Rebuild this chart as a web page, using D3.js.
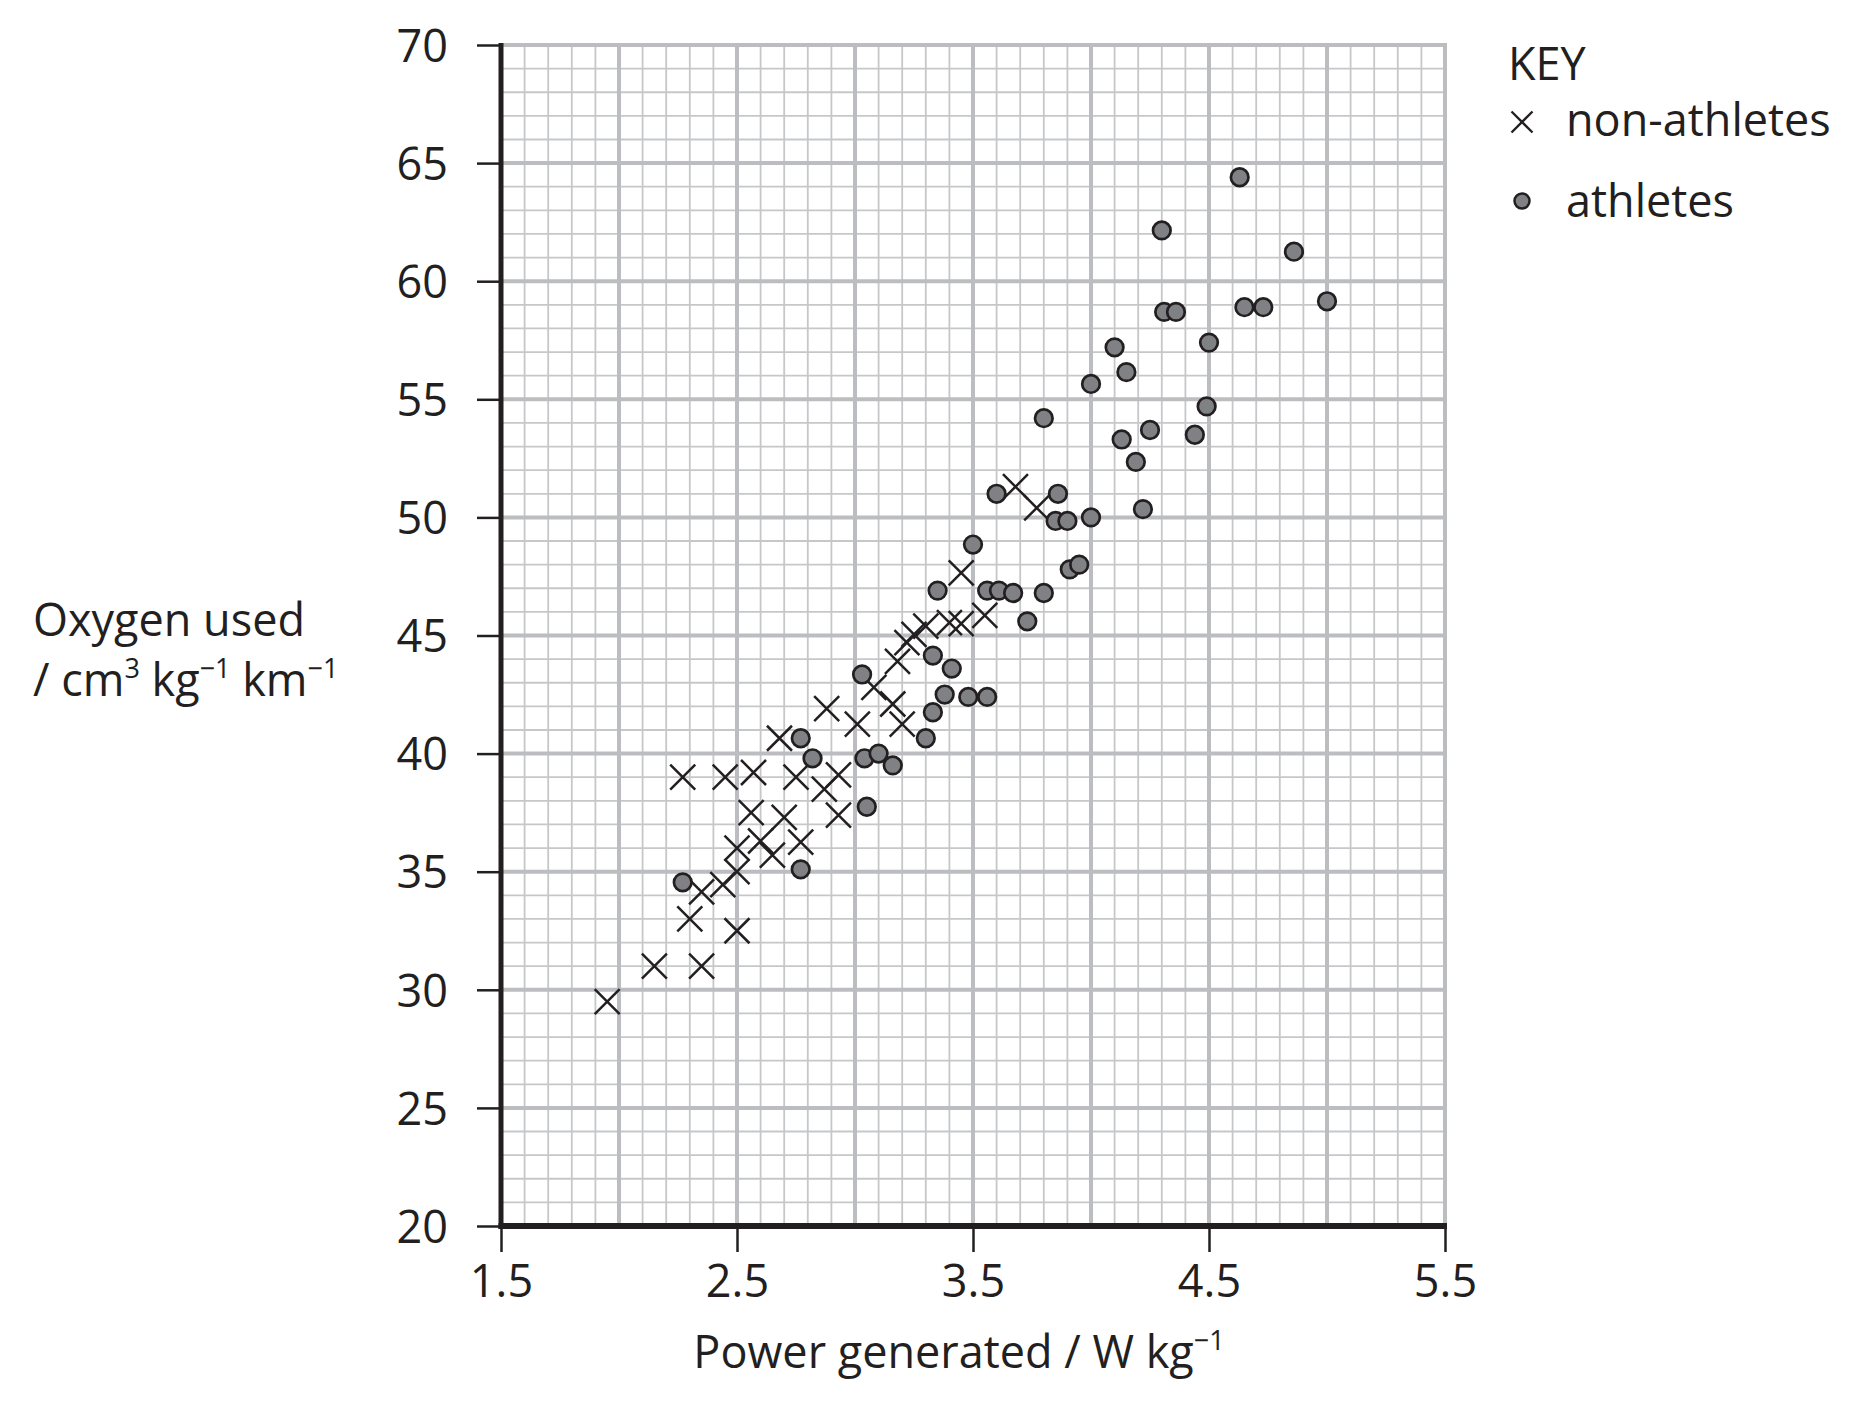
<!DOCTYPE html>
<html><head><meta charset="utf-8">
<script src="https://cdn.jsdelivr.net/npm/d3@7"></script>
<style>
body{margin:0;background:#fff}
svg text{font-family:"Open Sans",sans-serif;fill:#231f20}
</style>
</head><body>
<svg id="chart" width="1857" height="1404"></svg>
<script>
// Data: [power generated / W kg-1, oxygen used / cm3 kg-1 km-1]
const nonAthletes = [
  [1.95,29.5],[2.15,31.0],[2.35,31.0],[2.50,32.5],[2.30,33.0],[2.35,34.15],[2.44,34.45],
  [2.50,35.0],[2.50,36.0],[2.60,36.3],[2.65,35.7],[2.77,36.25],[2.56,37.5],[2.70,37.3],
  [2.93,37.4],[2.27,39.0],[2.45,39.0],[2.57,39.2],[2.75,39.0],[2.87,38.5],[2.93,39.1],
  [2.68,40.65],[2.88,41.9],[3.01,41.25],[3.08,42.8],[3.16,42.1],[3.20,41.25],[3.18,43.9],
  [3.22,44.7],[3.25,45.05],[3.30,45.4],[3.40,45.55],[3.45,45.5],[3.55,45.85],[3.45,47.65],
  [3.68,51.3],[3.77,50.4]
];
const athletes = [
  [2.27,34.55],[2.77,35.1],[3.05,37.75],[2.82,39.8],[2.77,40.65],[3.04,39.8],[3.10,40.0],
  [3.16,39.5],[3.30,40.65],[3.33,41.75],[3.38,42.5],[3.48,42.4],[3.56,42.4],[3.03,43.35],
  [3.33,44.15],[3.41,43.6],[3.35,46.9],[3.56,46.9],[3.61,46.9],[3.67,46.8],[3.80,46.8],
  [3.73,45.6],[3.50,48.85],[3.91,47.8],[3.95,48.0],[3.60,51.0],[3.86,51.0],[3.85,49.85],
  [3.90,49.85],[4.00,50.0],[4.22,50.35],[4.19,52.35],[4.13,53.3],[4.25,53.7],[4.44,53.5],
  [4.49,54.7],[3.80,54.2],[4.00,55.65],[4.15,56.15],[4.10,57.2],[4.50,57.4],[4.31,58.7],
  [4.36,58.7],[4.65,58.9],[4.73,58.9],[5.00,59.15],[4.86,61.25],[4.30,62.15],[4.63,64.4]
];
const xTicks = [1.5,2.5,3.5,4.5,5.5];
const yTicks = [20,25,30,35,40,45,50,55,60,65,70];
const xDomain = [1.5,5.5];
const yDomain = [20,70];

const svg = d3.select("#chart");
const x = d3.scaleLinear().domain(xDomain).range([501,1445]);
const y = d3.scaleLinear().domain(yDomain).range([1226,45]);

const minorC = "#c6c7c9", majorC = "#bcbdc0", ink = "#231f20";
const FS = 45;

// grid
const xg = d3.range(Math.round(xDomain[0]*10), Math.round(xDomain[1]*10)+1).map(d=>d/10);
const yg = d3.range(yDomain[0], yDomain[1]+1);
const grid = svg.append("g");
grid.selectAll("line.vm").data(xg.filter(d=>Math.round(d*10)%5!==0)).join("line")
  .attr("x1",d=>x(d)).attr("x2",d=>x(d)).attr("y1",y(yDomain[0])).attr("y2",y(yDomain[1]))
  .attr("stroke",minorC).attr("stroke-width",1.8);
grid.selectAll("line.hm").data(yg.filter(d=>d%5!==0)).join("line")
  .attr("y1",d=>y(d)).attr("y2",d=>y(d)).attr("x1",x(xDomain[0])).attr("x2",x(xDomain[1]))
  .attr("stroke",minorC).attr("stroke-width",1.8);
grid.selectAll("line.vM").data(xg.filter(d=>Math.round(d*10)%5===0)).join("line")
  .attr("x1",d=>x(d)).attr("x2",d=>x(d)).attr("y1",y(yDomain[0])).attr("y2",y(yDomain[1])-2)
  .attr("stroke",majorC).attr("stroke-width",4);
grid.selectAll("line.hM").data(yg.filter(d=>d%5===0)).join("line")
  .attr("y1",d=>y(d)).attr("y2",d=>y(d)).attr("x1",x(xDomain[0])).attr("x2",x(xDomain[1])+2)
  .attr("stroke",majorC).attr("stroke-width",4);

// axes
const yAxis = d3.axisLeft(y).tickValues(yTicks).tickSize(24).tickPadding(29).tickSizeOuter(0);
const gy = svg.append("g").attr("transform",`translate(${x(xDomain[0])},0)`).call(yAxis);
const xAxis = d3.axisBottom(x).tickValues(xTicks).tickSize(26).tickPadding(12).tickSizeOuter(0)
  .tickFormat(d3.format(".1f"));
const gx = svg.append("g").attr("transform",`translate(0,${y(yDomain[0])})`).call(xAxis);
[gx,gy].forEach(g=>{
  g.select(".domain").remove();
  g.selectAll(".tick line").attr("stroke",ink).attr("stroke-width",2.5);
  g.selectAll(".tick text").attr("font-size",FS).attr("fill",ink)
   .style("font-family",'"Open Sans",sans-serif');
});
gy.selectAll(".tick text").attr("dy","0.36em");
gx.selectAll(".tick text").attr("dy","0.74em");
svg.append("line").attr("x1",x(xDomain[0])).attr("x2",x(xDomain[0]))
  .attr("y1",y(yDomain[1])-2).attr("y2",y(yDomain[0])+3).attr("stroke",ink).attr("stroke-width",5);
svg.append("line").attr("x1",x(xDomain[0])-2.5).attr("x2",x(xDomain[1])+2)
  .attr("y1",y(yDomain[0])).attr("y2",y(yDomain[0])).attr("stroke",ink).attr("stroke-width",6);

// crosses
const cs = 12.5;
svg.append("g").selectAll("path").data(nonAthletes).join("path")
  .attr("d",d=>{const cx=x(d[0]),cy=y(d[1]);
    return `M${cx-cs},${cy-cs}L${cx+cs},${cy+cs}M${cx-cs},${cy+cs}L${cx+cs},${cy-cs}`;})
  .attr("stroke",ink).attr("stroke-width",2.5).attr("fill","none");
// circles
svg.append("g").selectAll("circle").data(athletes).join("circle")
  .attr("cx",d=>x(d[0])).attr("cy",d=>y(d[1])).attr("r",8.8)
  .attr("fill","#808184").attr("stroke",ink).attr("stroke-width",2.7);

// axis titles
svg.append("text").attr("x",959).attr("y",1368).attr("text-anchor","middle").attr("font-size",FS)
  .call(t=>{t.append("tspan").text("Power generated / W kg");
            t.append("tspan").attr("font-size",27).attr("dy",-18).text("\u22121");});
svg.append("text").attr("font-size",FS).attr("x",33).attr("y",636).text("Oxygen used");
const l2 = svg.append("text").attr("font-size",FS).attr("x",33).attr("y",696);
l2.append("tspan").text("/ cm");
l2.append("tspan").attr("font-size",27).attr("dy",-18).text("3");
l2.append("tspan").attr("dy",18).text(" kg");
l2.append("tspan").attr("font-size",27).attr("dy",-18).text("\u22121");
l2.append("tspan").attr("dy",18).text(" km");
l2.append("tspan").attr("font-size",27).attr("dy",-18).text("\u22121");

// legend
svg.append("text").attr("x",1508).attr("y",80).attr("font-size",FS).text("KEY");
const lc = 10.5;
svg.append("path").attr("d",`M${1522-lc},${122-lc}L${1522+lc},${122+lc}M${1522-lc},${122+lc}L${1522+lc},${122-lc}`)
  .attr("stroke",ink).attr("stroke-width",2.3);
svg.append("text").attr("x",1566).attr("y",136).attr("font-size",FS).text("non-athletes");
svg.append("circle").attr("cx",1522).attr("cy",201).attr("r",7.5).attr("fill","#808184")
  .attr("stroke",ink).attr("stroke-width",2.5);
svg.append("text").attr("x",1566).attr("y",217).attr("font-size",FS).text("athletes");
</script>
</body></html>
